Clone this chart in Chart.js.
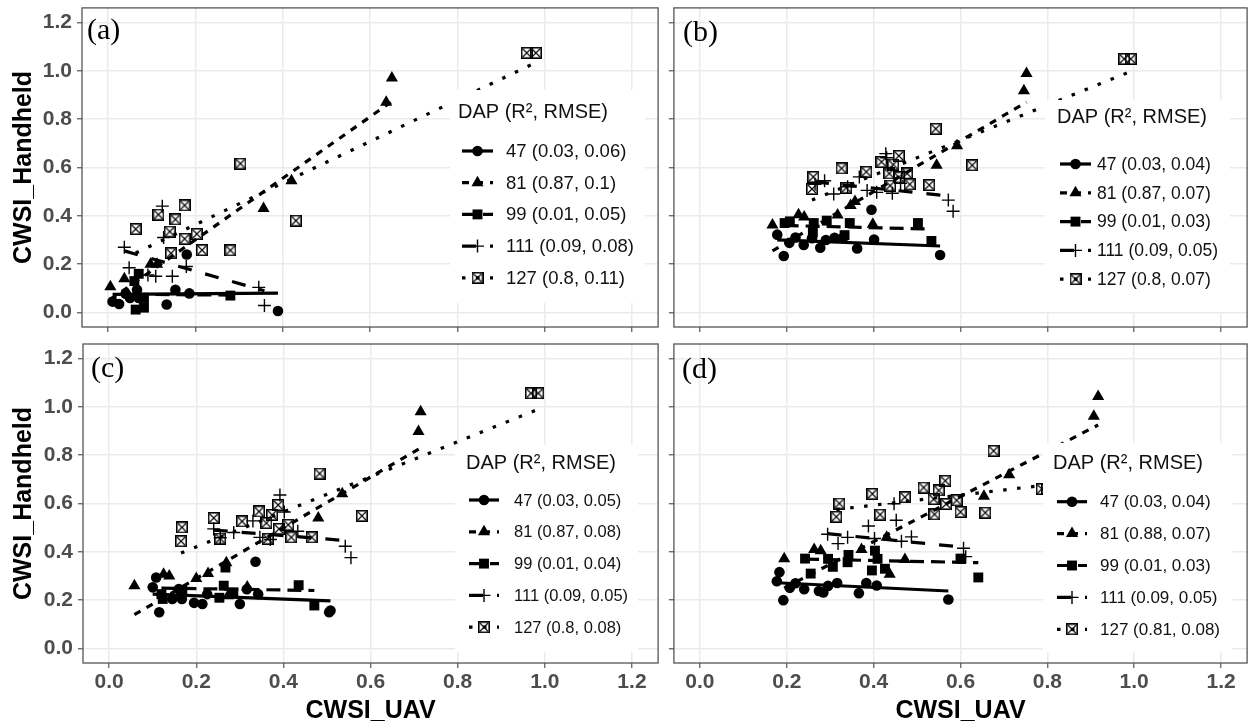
<!DOCTYPE html>
<html><head><meta charset="utf-8">
<script src="https://cdn.jsdelivr.net/npm/chart.js@4.4.1/dist/chart.umd.min.js"></script>
<style>
html,body{margin:0;padding:0;background:#fff;width:1255px;height:727px;overflow:hidden}
canvas{position:absolute}
</style></head><body>
<canvas id="cA" width="666" height="336" style="left:0;top:0"></canvas>
<canvas id="cB" width="589" height="336" style="left:666px;top:0"></canvas>
<canvas id="cC" width="666" height="391" style="left:0;top:336px"></canvas>
<canvas id="cD" width="589" height="391" style="left:666px;top:336px"></canvas>
<script>
// ---------------- DATA ----------------
const dapGroups = ['47', '81', '99', '111', '127'];
const tickValues = [0, 0.2, 0.4, 0.6, 0.8, 1.0, 1.2];
const tickLabels = ['0.0', '0.2', '0.4', '0.6', '0.8', '1.0', '1.2'];
const legendTitle = 'DAP (R\u00B2, RMSE)';
const xTitle = 'CWSI_UAV';
const yTitle = 'CWSI_Handheld';
const panelLabels = ['(a)', '(b)', '(c)', '(d)'];

// Panel (a) points [CWSI_UAV, CWSI_Handheld]
const a47 = [[0.01,0.045],[0.025,0.035],[0.04,0.078],[0.05,0.06],[0.066,0.094],[0.07,0.06],[0.134,0.033],[0.154,0.094],[0.18,0.24],[0.186,0.079],[0.389,0.006]];
const a81 = [[0.005,0.107],[0.037,0.14],[0.045,0.075],[0.097,0.2],[0.112,0.2],[0.356,0.43],[0.42,0.545],[0.637,0.87],[0.65,0.97]];
const a99 = [[0.06,0.13],[0.063,0.012],[0.07,0.16],[0.082,0.02],[0.082,0.06],[0.28,0.07]];
const a111 = [[0.037,0.27],[0.048,0.185],[0.091,0.155],[0.109,0.15],[0.124,0.44],[0.127,0.31],[0.147,0.15],[0.179,0.19],[0.345,0.104],[0.358,0.029]];
const a127 = [[0.063,0.345],[0.115,0.405],[0.141,0.335],[0.144,0.245],[0.154,0.385],[0.175,0.443],[0.175,0.305],[0.203,0.325],[0.215,0.258],[0.28,0.257],[0.303,0.616],[0.43,0.38],[0.959,1.074],[0.98,1.074]];
const aFit47 = [[0.01,0.075],[0.389,0.08]];
const aFit81 = [[0.005,0.053],[0.65,0.873]];
const aFit99 = [[0.06,0.075],[0.28,0.072]];
const aFit111 = [[0.037,0.255],[0.358,0.09]];
const aFit127 = [[0.063,0.246],[0.98,1.034]];
const aStats = ['0.03, 0.06', '0.87, 0.1', '0.01, 0.05', '0.09, 0.08', '0.8, 0.11'];

// Panel (b)
const b47 = [[0.178,0.322],[0.193,0.234],[0.206,0.288],[0.22,0.31],[0.239,0.279],[0.258,0.307],[0.277,0.268],[0.29,0.3],[0.31,0.309],[0.33,0.31],[0.362,0.265],[0.395,0.425],[0.401,0.302],[0.553,0.238]];
const b81 = [[0.167,0.362],[0.227,0.404],[0.24,0.395],[0.317,0.403],[0.347,0.443],[0.357,0.459],[0.398,0.365],[0.545,0.609],[0.592,0.69],[0.746,0.917],[0.752,0.989]];
const b99 = [[0.195,0.37],[0.207,0.377],[0.262,0.37],[0.26,0.332],[0.292,0.38],[0.333,0.32],[0.345,0.37],[0.502,0.37],[0.533,0.296]];
const b111 = [[0.265,0.53],[0.287,0.545],[0.308,0.49],[0.34,0.52],[0.367,0.561],[0.385,0.505],[0.407,0.497],[0.428,0.657],[0.43,0.64],[0.443,0.493],[0.462,0.534],[0.572,0.465],[0.583,0.419]];
const b127 = [[0.258,0.511],[0.261,0.561],[0.326,0.596],[0.337,0.516],[0.383,0.582],[0.418,0.623],[0.436,0.575],[0.438,0.525],[0.445,0.612],[0.458,0.648],[0.458,0.559],[0.477,0.575],[0.483,0.53],[0.528,0.527],[0.543,0.76],[0.627,0.609],[0.977,1.049],[0.992,1.049]];
const bFit47 = [[0.178,0.3],[0.553,0.275]];
const bFit81 = [[0.167,0.255],[0.752,0.87]];
const bFit99 = [[0.195,0.36],[0.533,0.345]];
const bFit111 = [[0.265,0.54],[0.583,0.48]];
const bFit127 = [[0.258,0.465],[0.992,0.997]];
const bStats = ['0.03, 0.04', '0.87, 0.07', '0.01, 0.03', '0.09, 0.05', '0.8, 0.07'];

// Panel (c)
const c47 = [[0.1,0.253],[0.108,0.294],[0.115,0.15],[0.145,0.205],[0.16,0.246],[0.167,0.205],[0.195,0.189],[0.214,0.184],[0.225,0.225],[0.3,0.184],[0.316,0.245],[0.336,0.359],[0.342,0.225],[0.505,0.15],[0.508,0.157]];
const c81 = [[0.058,0.26],[0.125,0.307],[0.138,0.3],[0.2,0.29],[0.227,0.31],[0.269,0.355],[0.273,0.218],[0.317,0.255],[0.48,0.54],[0.535,0.64],[0.71,0.898],[0.715,0.98]];
const c99 = [[0.12,0.225],[0.123,0.205],[0.168,0.242],[0.253,0.21],[0.263,0.26],[0.267,0.335],[0.285,0.232],[0.435,0.262],[0.471,0.178]];
const c111 = [[0.24,0.495],[0.255,0.458],[0.286,0.48],[0.33,0.528],[0.346,0.46],[0.37,0.451],[0.392,0.635],[0.402,0.565],[0.433,0.485],[0.542,0.423],[0.555,0.376]];
const c127 = [[0.165,0.444],[0.167,0.501],[0.24,0.54],[0.255,0.455],[0.305,0.526],[0.344,0.567],[0.361,0.519],[0.364,0.454],[0.374,0.553],[0.388,0.594],[0.39,0.495],[0.411,0.512],[0.418,0.46],[0.465,0.46],[0.483,0.724],[0.58,0.549],[0.968,1.056],[0.985,1.056]];
const cFit47 = [[0.1,0.225],[0.508,0.197]];
const cFit81 = [[0.058,0.14],[0.715,0.83]];
const cFit99 = [[0.12,0.25],[0.471,0.24]];
const cFit111 = [[0.24,0.49],[0.555,0.445]];
const cFit127 = [[0.165,0.395],[0.985,0.99]];
const cStats = ['0.03, 0.05', '0.87, 0.08', '0.01, 0.04', '0.09, 0.05', '0.8, 0.08'];

// Panel (d)
const d47 = [[0.177,0.278],[0.183,0.316],[0.192,0.2],[0.207,0.251],[0.22,0.27],[0.24,0.245],[0.274,0.238],[0.284,0.232],[0.295,0.259],[0.316,0.271],[0.366,0.229],[0.383,0.271],[0.407,0.261],[0.572,0.203]];
const d81 = [[0.194,0.371],[0.263,0.41],[0.278,0.405],[0.372,0.41],[0.43,0.46],[0.437,0.307],[0.472,0.368],[0.654,0.63],[0.712,0.719],[0.907,0.961],[0.917,1.043]];
const d99 = [[0.242,0.372],[0.255,0.31],[0.295,0.371],[0.306,0.338],[0.342,0.387],[0.34,0.357],[0.396,0.323],[0.403,0.405],[0.409,0.371],[0.426,0.33],[0.6,0.372],[0.641,0.294]];
const d111 = [[0.294,0.473],[0.318,0.434],[0.34,0.46],[0.388,0.507],[0.402,0.455],[0.447,0.599],[0.452,0.531],[0.464,0.444],[0.487,0.462],[0.607,0.415],[0.612,0.38]];
const d127 = [[0.314,0.545],[0.321,0.6],[0.397,0.64],[0.415,0.554],[0.472,0.626],[0.515,0.666],[0.538,0.618],[0.54,0.555],[0.55,0.654],[0.565,0.694],[0.567,0.598],[0.591,0.613],[0.6,0.565],[0.657,0.562],[0.676,0.818],[0.787,0.66],[0.8,0.66]];
const dFit47 = [[0.177,0.272],[0.572,0.238]];
const dFit81 = [[0.194,0.25],[0.917,0.925]];
const dFit99 = [[0.242,0.37],[0.641,0.355]];
const dFit111 = [[0.294,0.475],[0.612,0.418]];
const dFit127 = [[0.314,0.575],[0.8,0.677]];
const dStats = ['0.03, 0.04', '0.88, 0.07', '0.01, 0.03', '0.09, 0.05', '0.81, 0.08'];

// ---------------- STYLE ----------------
const FONT = '"Liberation Sans", Arial, sans-serif';
const markerStyles = [
  {style:'circle', r:5.3, bw:0},
  {style:'triangle', r:7, bw:0},
  {style:'rect', r:7, bw:0},
  {style:'cross', r:6.5, bw:1.4},
  {style:'boxx', r:6, bw:0}
];
const lineDashes = [[], [7,7], [14,7], [14,14], [3.5,10.5]];
const LINE_W = 3.2;

function makeBoxX(size){
  const c = document.createElement('canvas');
  c.width = size; c.height = size;
  const g = c.getContext('2d');
  g.strokeStyle = '#000'; g.lineWidth = 1.6;
  g.strokeRect(0.8, 0.8, size-1.6, size-1.6);
  g.lineWidth = 1.1;
  g.beginPath();
  g.moveTo(2, 2); g.lineTo(size-2, size-2);
  g.moveTo(size-2, 2); g.lineTo(2, size-2);
  g.stroke();
  return c;
}
const boxX = makeBoxX(12);

function drawMarker(ctx, k, x, y){
  const m = markerStyles[k];
  ctx.save();
  ctx.fillStyle = '#000'; ctx.strokeStyle = '#000'; ctx.setLineDash([]);
  if (m.style === 'circle') { ctx.beginPath(); ctx.arc(x, y, m.r, 0, 2*Math.PI); ctx.fill(); }
  else if (m.style === 'triangle') {
    ctx.beginPath();
    for (let j = 0; j < 3; j++) { const a = j*2*Math.PI/3; const px = x + Math.sin(a)*m.r, py = y - Math.cos(a)*m.r; if (j) ctx.lineTo(px, py); else ctx.moveTo(px, py); }
    ctx.closePath(); ctx.fill();
  }
  else if (m.style === 'rect') { const s = m.r*Math.SQRT1_2; ctx.fillRect(x-s, y-s, 2*s, 2*s); }
  else if (m.style === 'cross') { ctx.lineWidth = m.bw; ctx.beginPath(); ctx.moveTo(x-m.r, y); ctx.lineTo(x+m.r, y); ctx.moveTo(x, y-m.r); ctx.lineTo(x, y+m.r); ctx.stroke(); }
  else { ctx.drawImage(boxX, x - boxX.width/2, y - boxX.height/2); }
  ctx.restore();
}

function decoPlugin(P){
  return {
    id: 'deco' + P.key,
    afterDatasetsDraw(chart){
      const ctx = chart.ctx, a = chart.chartArea;
      const ox = P.ox, oy = P.oy, L = P.legend;
      ctx.save();
      // legend box
      ctx.fillStyle = '#fff';
      ctx.fillRect(L.box[0]-ox, L.box[1]-oy, L.box[2]-L.box[0], L.box[3]-L.box[1]);
      ctx.fillStyle = '#111'; ctx.textBaseline = 'middle'; ctx.textAlign = 'left';
      ctx.font = L.titleSize + 'px ' + FONT;
      ctx.fillText(legendTitle, L.titleX-ox, L.titleY-oy);
      ctx.font = L.itemSize + 'px ' + FONT;
      dapGroups.forEach((g, k) => {
        const y = L.rowY + k*L.rowStep - oy;
        ctx.save();
        ctx.strokeStyle = '#000'; ctx.lineWidth = LINE_W; ctx.setLineDash(lineDashes[k]);
        ctx.beginPath(); ctx.moveTo(L.keyX0-ox, y); ctx.lineTo(L.keyX1-ox, y); ctx.stroke();
        ctx.restore();
        drawMarker(ctx, k, (L.keyX0+L.keyX1)/2 - ox, y);
        ctx.fillStyle = '#111';
        ctx.fillText(g + ' (' + P.stats[k] + ')', L.textX-ox, y+1);
      });
      // panel border
      ctx.strokeStyle = '#555'; ctx.lineWidth = 1.3; ctx.setLineDash([]);
      ctx.strokeRect(a.left, a.top, a.right-a.left, a.bottom-a.top);
      // panel label
      ctx.fillStyle = '#000'; ctx.textBaseline = 'alphabetic';
      ctx.font = '30px "Liberation Serif", "Times New Roman", serif';
      ctx.fillText(P.label, P.labelX-ox, P.labelY-oy);
      ctx.restore();
    }
  };
}

function zeroPad(s){ s.paddingLeft = 0; s.paddingRight = 0; s.paddingTop = 0; s.paddingBottom = 0; }

function makePanel(P){
  const pts = P.points, fits = P.fits;
  const datasets = [];
  fits.forEach((f, k) => datasets.push({
    type:'line', label: dapGroups[k] + ' fit', data: f.map(([x,y]) => ({x, y})),
    borderColor:'#000', borderWidth: LINE_W, borderDash: lineDashes[k], borderCapStyle:'butt',
    pointRadius:0, fill:false, tension:0, order:0
  }));
  pts.forEach((p, k) => {
    const m = markerStyles[k];
    datasets.push({
      type:'scatter', label: dapGroups[k], data: p.map(([x,y]) => ({x, y})),
      pointStyle: m.style === 'boxx' ? boxX : m.style,
      pointRadius: m.r, pointHoverRadius: m.r,
      pointBorderWidth: m.bw, backgroundColor:'#000', borderColor:'#000', showLine:false, order:1
    });
  });
  const tickFont = {family: FONT, size: 21, weight: 'bold'};
  const titleFont = {family: FONT, size: 25, weight: 'bold'};
  const gridOpts = {color:'#EBEBEB', lineWidth:1.5, drawTicks:true, tickLength:5, tickColor:'#555', tickWidth:1.2};
  new Chart(document.getElementById(P.canvas), {
    type:'scatter',
    data:{datasets},
    options:{
      responsive:false, animation:false, devicePixelRatio:1,
      layout:{padding:P.pad},
      plugins:{legend:{display:false}, tooltip:{enabled:false}},
      scales:{
        x:{type:'linear', min:-0.06, max:1.26, bounds:'data',
          afterBuildTicks: s => { s.ticks = tickValues.map(v => ({value:v})); },
          ticks:{display:P.showX, autoSkip:false, maxRotation:0, padding:2, color:'#4D4D4D', font:tickFont, callback:(v,i) => tickLabels[i]},
          grid:gridOpts, border:{display:false},
          title:{display:P.showX, text:xTitle, color:'#000', font:titleFont, padding:{top:0, bottom:1}},
          afterFit: s => { s.height = P.xH; zeroPad(s); }
        },
        y:{type:'linear', min:-0.06, max:1.26, bounds:'data',
          afterBuildTicks: s => { s.ticks = tickValues.map(v => ({value:v})); },
          ticks:{display:P.showY, autoSkip:false, padding:5, color:'#4D4D4D', font:tickFont, callback:(v,i) => tickLabels[i]},
          grid:gridOpts, border:{display:false},
          title:{display:P.showY, text:yTitle, color:'#000', font:titleFont, padding:{top:9, bottom:0}},
          afterFit: s => { s.width = P.yW; zeroPad(s); }
        }
      }
    },
    plugins:[decoPlugin(P)]
  });
}

makePanel({key:'A', canvas:'cA', ox:0, oy:0, pad:{left:0, top:4, right:6, bottom:4}, yW:82, xH:5, showX:false, showY:true,
  points:[a47,a81,a99,a111,a127], fits:[aFit47,aFit81,aFit99,aFit111,aFit127], stats:aStats,
  label:panelLabels[0], labelX:87, labelY:39,
  legend:{box:[450,90,645,303], titleX:458, titleY:112, titleSize:20, rowY:151, rowStep:31.7, keyX0:462, keyX1:493, textX:506, itemSize:18.5}});
makePanel({key:'B', canvas:'cB', ox:666, oy:0, pad:{left:0, top:4, right:5, bottom:4}, yW:7, xH:5, showX:false, showY:false,
  points:[b47,b81,b99,b111,b127], fits:[bFit47,bFit81,bFit99,bFit111,bFit127], stats:bStats,
  label:panelLabels[1], labelX:683, labelY:41,
  legend:{box:[1045,100,1230,312], titleX:1057, titleY:117.5, titleSize:20, rowY:164, rowStep:28.8, keyX0:1060, keyX1:1091, textX:1097, itemSize:17.5}});
makePanel({key:'C', canvas:'cC', ox:0, oy:336, pad:{left:0, top:8, right:5, bottom:0}, yW:83, xH:64, showX:true, showY:true,
  points:[c47,c81,c99,c111,c127], fits:[cFit47,cFit81,cFit99,cFit111,cFit127], stats:cStats,
  label:panelLabels[2], labelX:91, labelY:377,
  legend:{box:[455,445,638,652], titleX:466, titleY:463, titleSize:20, rowY:500, rowStep:31.8, keyX0:469, keyX1:499, textX:514, itemSize:16.5}});
makePanel({key:'D', canvas:'cD', ox:666, oy:336, pad:{left:0, top:8, right:4, bottom:0}, yW:7, xH:64, showX:true, showY:false,
  points:[d47,d81,d99,d111,d127], fits:[dFit47,dFit81,dFit99,dFit111,dFit127], stats:dStats,
  label:panelLabels[3], labelX:682, labelY:378,
  legend:{box:[1043,443,1232,652], titleX:1053, titleY:463, titleSize:20, rowY:501.7, rowStep:31.9, keyX0:1057, keyX1:1087, textX:1100, itemSize:17}});
</script>
</body></html>
